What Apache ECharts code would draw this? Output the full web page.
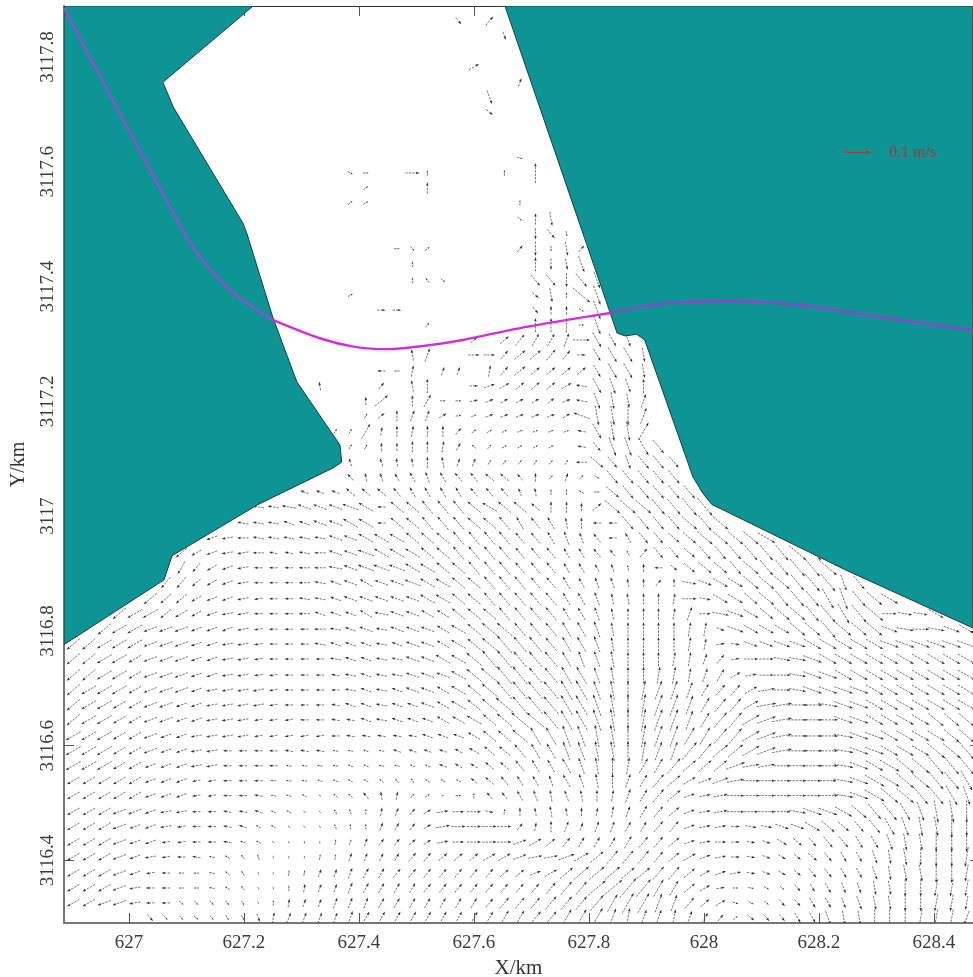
<!DOCTYPE html>
<html>
<head>
<meta charset="utf-8">
<style>html,body{margin:0;padding:0;background:#fff}#c{width:973px;height:977px}</style>
<script src="https://cdn.jsdelivr.net/npm/echarts@6/dist/echarts.min.js"></script>
</head>
<body>
<div id="c"></div>
<script>
const xMin = 626.887, xMax = 628.468, yMin = 3116.291, yMax = 3117.889;
const xTicks = [627, 627.2, 627.4, 627.6, 627.8, 628, 628.2, 628.4];
const yTicks = [3116.4, 3116.6, 3116.8, 3117, 3117.2, 3117.4, 3117.6, 3117.8];

const westCoast = [[626.887,3117.889],[627.216,3117.889],[627.059,3117.756],[627.077,3117.713],[627.198,3117.511],[627.205,3117.493],[627.250,3117.347],[627.292,3117.234],[627.367,3117.124],[627.370,3117.094],[627.355,3117.084],[627.224,3117.020],[627.075,3116.931],[627.061,3116.889],[626.887,3116.776]];
const eastCoast = [[627.654,3117.889],[627.849,3117.319],[627.863,3117.314],[627.883,3117.317],[627.897,3117.307],[627.981,3117.068],[627.998,3117.040],[628.014,3117.020],[628.033,3117.011],[628.249,3116.905],[628.468,3116.805],[628.468,3117.889]];

const sectionWest = [[626.887,3117.885],[626.962,3117.743],[627.037,3117.603],[627.077,3117.528],[627.118,3117.459],[627.170,3117.399],[627.210,3117.368],[627.250,3117.342]];
const sectionWater = [[627.250,3117.342],[627.332,3117.310],[627.393,3117.295],[627.449,3117.291],[627.515,3117.297],[627.581,3117.307],[627.671,3117.326],[627.762,3117.342],[627.837,3117.354]];
const sectionEast = [[627.837,3117.354],[627.923,3117.370],[628.045,3117.375],[628.167,3117.368],[628.306,3117.347],[628.468,3117.324]];

const xNodes = [626.903,626.930,626.957,626.983,627.010,627.037,627.064,627.091,627.117,627.144,627.171,627.198,627.225,627.251,627.278,627.305,627.332,627.359,627.385,627.412,627.439,627.466,627.493,627.519,627.546,627.573,627.600,627.627,627.653,627.680,627.707,627.734,627.761,627.787,627.814,627.841,627.868,627.895,627.921,627.948,627.975,628.002,628.029,628.055,628.082,628.109,628.136,628.163,628.189,628.216,628.243,628.270,628.297,628.323,628.350,628.377,628.404,628.431,628.457];
const rowYs = [3116.300,3116.326,3116.352,3116.378,3116.406,3116.432,3116.459,3116.485,3116.513,3116.539,3116.565,3116.591,3116.617,3116.645,3116.671,3116.697,3116.723,3116.751,3116.777,3116.803,3116.830,3116.856,3116.884,3116.910,3116.936,3116.962,3116.988,3117.016,3117.042,3117.068,3117.094,3117.121,3117.148,3117.175,3117.201,3117.227,3117.253,3117.281,3117.307,3117.333,3117.359,3117.385,3117.411,3117.439,3117.466,3117.492,3117.518,3117.546,3117.572,3117.598,3117.624,3117.650,3117.678,3117.704,3117.730,3117.756,3117.783,3117.809,3117.837,3117.863];

// direction of each arrow: one base-36 digit = tens of degrees; "." = no arrow
const dirRows = [
".....vvvwv uut8777776 6666666666 5566678778 7654wvvuut ssrrrqqqp",
"llkkjiiwvv vuu9877777 6666666555 5555566677 543yxwvvuu ttssrrqqq",
"lllkjiiiih fdca987776 6665555555 5555445566 4310zxwvuu ttssrrqqq",
"lllkkjiiih ecb9887776 6555555544 2344444455 4321zyxwvv uutsssrrq",
"lllkkjjihh fdba998877 6655444332 1123455554 3210zyxwwv uutssrrrq",
"lllkkkjjii hgfdca9877 5543100002 3456666554 2100zyxwvv vuutssrrr",
"lllkkkjjii hgffedcb99 7653100005 8977776655 2110zzyyxw wvvutssrr",
"lllkkkjjii hhggfedcb9 8753100z89 aaa9887654 2110000zyy xwvvutssr",
"lllllkkkjj iihhgfeeed a853109ddc baba987654 2110000000 zyxwwvvut",
"lllllkkkjj iiiihhggff edcfffeedc cbcba97654 3221000000 zyxxwwvvu",
"lllllkkkjj iiiihhhhgg hhgggffeed cccba98665 4442110000 zyxxwwvvv",
"lllllkkkjj iiiihhhhhg hggggffeed ccbbaa9877 5544321000 zyyxxxwwv",
"lllllkkkjj jjjjjjjihh hhhgggfeee ccbbaa9877 6655321000 zyyxxxxww",
"mllllkkkkj jjjjjiihhg hgggfffeee edccba9877 7655321000 yyxxxxwww",
"mllllkkkkj jjjjiiihgg hgggffeeed ddccba9877 765531100z yyxxxxxxx",
"mllllkkkkj jjjjiiiihg hgggffeedd ddccba9877 7655310zyy yyxxxxxxx",
"mmlllkkkkk jjjjiiihhg hhgggfeedd ddccba9988 8763100zyy xxxxxxxxx",
"mmlllkkkkk jjjiiiihgg hhggffeddd ddcbba9998 875100zzyx xxxxxxxxx",
"mmlllkkkkk jjjiiihggg hgggffeedd ddccba9999 881zyyyyxx xxxyyyyyy",
"..mllkkkkk kjjiiiihgg hgggffeeed ddccba9999 88yyxxxwwv wwwyz0zyx",
"...mllmllk jjiiiigggf hggffeeedd ddccba9998 70zyxwwwvv uvw0zzx..",
".....mmmlk kjjiihhggg gggffeeddd ddccbaa998 0zxxwwvvvu tvwx.....",
"......nnml kjiiiihggf gggffeeddd ddccbba959 zyxxwwwvvv tv.......",
".......onl kjiiiiihgg ggffeedddd ddcccba9iw wwwvwvvvvw .........",
".......mlk jjihhhiggg fffeeddddd ddccddc5vv wvvvvvvww. .........",
".........k jihhhhhggf ffeeeddddd dcbbdicvvw wwwwwx.... .........",
".......... .hhhggggff ieedddeedc dca9iivvvv wvw....... .........",
".......... ..hhhggggf ieedddefee e9994wwwvv vv........ .........",
".......... .....gggee edccccdddb a99f0wvvvv v......... .........",
".......... ........da bccbcddeed 9575xvvvvv .......... .........",
".......... ........b. baa9a77655 656iwvtvvv",
".......... ........66 999986e533 33.hvttuv.",
".......... .......666 8989954332 222huss6..",
".......... .........6 4977312222 223gssr7..",
".......... .........9 4.96001233 342htss7..",
".......... ......a... 5.a9..0234 443hutt9..",
".......... .......... ii8.77.854 4444uuus..",
".......... .......... ..a7..0054 4550uuus..",
".......... .......... ......4.45 6670uut...",
".......... .......... ...5...... 9990t.....",
".......... .......... 00........ v99xt.....",
".......... ........3. .......... ws9wt.....",
".......... .......... ..9dw..... vvrvt.....",
".......... .......... ..9....... 9rst......",
".......... .......... .0v4.....5 rrs5......",
".......... .......... .......... rvs.......",
".......... .......... .........w 9s........",
".......... ........43 .........9",
".......... .........4 ...9......",
".......... ........x0 ..09....9. 9.........",
".......... .......... .........y",
"",
"",
".......... .......... .......w..",
".......... .......... .......t..",
".......... .......... .........7",
".......... .......... ......3...",
"",
".......... .......... ........t.",
".......... .......... .....v.5.."
];

// speed of each arrow: one base-36 digit = 0.01 m/s
const speedRows = [
"1111132222 2234444455 5555555566 6677877666 5432333445 556666665",
"5555433222 2212333444 4444444455 5666778876 5442223344 455566665",
"5555433222 2211233344 4444444444 4566899876 5432222334 445566666",
"5555433222 2211223344 4444444444 4567776666 5444333344 445566776",
"5555443332 2221112233 3344444555 5566666655 5443333344 445566777",
"5555443333 3221111223 3333445555 5444445555 4443334445 555666777",
"5555444333 3322111222 3333555553 3443444455 4443445566 556777787",
"5555544433 3332211222 3333445323 3433344555 4456566677 777877888",
"5555544433 3332221223 3322122334 4444445566 4456666667 778888887",
"5555544433 3332222222 2222223444 4455555566 5566666666 778888888",
"6665544444 3333222222 2222333445 5566666667 6667666677 777888888",
"6665554444 3333333222 2333334556 6677777777 8777777777 777777888",
"6665554444 4433333333 3334445667 7788888888 7777777777 777777777",
"6665555444 4433333334 4444556678 8888888888 7677777777 777777777",
"6665555444 4443333344 4445566788 8888888888 7666677777 777777777",
"6666555544 4443333344 4455566788 8888777777 6555566677 777777777",
"6666555544 4433333344 4455567888 7777666666 5554456677 777777777",
"6666555544 4433333444 4455667887 7766665555 5443556677 777777777",
"6666655544 4433334444 4455566787 7666655555 5433556677 777777777",
"6666655544 4433334445 4555566776 6666655555 5536666778 777666666",
"6666665544 4433344445 5555566666 6655544444 5466667778 888555666",
"6666665544 4433344455 5556666666 6655544444 5466677778 877766666",
"6666665544 4433344455 5566666666 5554443333 5566777788 666666666",
"6666665544 4433344556 6666666665 5544332333 5666777888 666666666",
"6666665544 4443344556 6666666665 5544432455 5666777888 666666666",
"6666666544 4444444556 6666666665 5554434555 6777777888 666666666",
"6666666644 4444445566 3666666665 5544336666 7777777777 666666666",
"6666666664 4444555566 3666666666 4443477777 8888888888 666666666",
"2222222222 2222233344 4444444443 3222266666 6666666666 666666666",
"2222222222 3333333333 3344444443 3232266666 6666666666 666666666",
"2222222222 3333333333 3334433222 2224655665",
"2222222222 2222222222 3344432222 2223477765",
"2222222222 2222222226 3444432222 2223677722",
"2222222222 2222222222 3444322333 3336777622",
"2222222222 2222222223 6245223333 3334665522",
"2222222222 3333333333 3345333444 4444665522",
"2222222222 2222222222 3245333445 4444566522",
"2222222222 2222222222 3345334445 5543566522",
"2222222222 2222222222 3333333345 5556655222",
"2222222222 2222222222 3332222222 5552722222",
"2222222222 2222222222 3333222222 3332722222",
"2222222222 2222222222 2222222222 3528722222",
"2222222222 2222222222 4222222222 5556622222",
"2222222222 2222222222 2222222222 5446222222",
"2222222222 2222222222 2222222223 5253222222",
"2222222222 2222222222 2222222222 4422222222",
"2222222222 2222222222 2222222222 4522222222",
"2222222222 2222222222 2222222222",
"2222222222 2222222222 2224222222",
"2222222222 2222222222 2252222223 7222222222",
"2222222222 2222222222 2222222222",
"",
"",
"2222222222 2222222222 2222222322",
"2222222222 2222222222 2222222522",
"2222222222 2222222222 2222222223",
"2222222222 2222222222 2222224222",
"",
"2222222222 2222222222 2222222232",
"2222222222 2222222222 2222232422"
];

const legendArrow = [628.267, 3117.634, 0.1, 0];
const legendLabel = [628.322, 3117.634, '0.1 m/s'];

const kmPerMs = 0.5;
const arrowData = [];
dirRows.forEach((row, r) => {
  const dirs = row.replace(/ /g, '');
  const speeds = speedRows[r].replace(/ /g, '');
  for (let c = 0; c < dirs.length; c++) {
    if (dirs[c] === '.') continue;
    const a = parseInt(dirs[c], 36) * 10 * Math.PI / 180;
    const s = parseInt(speeds[c], 36) * 0.01;
    arrowData.push([xNodes[c], rowYs[r], s * Math.cos(a), s * Math.sin(a)]);
  }
});

function arrowRenderer(stroke, head, width, size) {
  return function (params, api) {
    const x = api.value(0), y = api.value(1), u = api.value(2), v = api.value(3);
    const t = api.coord([x - u * kmPerMs / 2, y - v * kmPerMs / 2]);
    const h = api.coord([x + u * kmPerMs / 2, y + v * kmPerMs / 2]);
    const a = Math.atan2(h[1] - t[1], h[0] - t[0]);
    const len = Math.hypot(h[0] - t[0], h[1] - t[1]);
    const s = Math.min(size, len * 0.4), w = s * 0.36;
    const bx = h[0] - s * Math.cos(a), by = h[1] - s * Math.sin(a);
    return {
      type: 'group',
      silent: true,
      children: [
        { type: 'line', shape: { x1: t[0], y1: t[1], x2: bx, y2: by }, style: { stroke: stroke, lineWidth: width, lineDash: width < 1 ? [2.4, 1.1] : null } },
        { type: 'polygon', shape: { points: [h, [bx - w * Math.sin(a), by + w * Math.cos(a)], [bx + w * Math.sin(a), by - w * Math.cos(a)]] }, style: { fill: head } }
      ]
    };
  };
}

function landRenderer(points) {
  return function (params, api) {
    if (params.dataIndex !== 0) return;
    return { type: 'polygon', silent: true, shape: { points: points.map(p => api.coord(p)) }, style: { fill: '#0e9494', stroke: '#14403f', lineWidth: 1 } };
  };
}

const serif = '"Liberation Serif", "Times New Roman", serif';
const tick = { show: true, inside: true, length: 10, lineStyle: { color: '#555', width: 1 } };
const tickText = { fontFamily: serif, fontSize: 19, color: '#3c3c3c' };

const chart = echarts.init(document.getElementById('c'), null, { renderer: 'canvas' });
chart.setOption({
  animation: false,
  backgroundColor: '#fff',
  grid: { left: 64, right: 0, top: 6, bottom: 54, containLabel: false, outerBoundsMode: 'none' },
  xAxis: [
    { type: 'value', position: 'bottom', min: xMin, max: xMax, splitLine: { show: false },
      name: 'X/km', nameLocation: 'middle', nameGap: 34, nameTextStyle: { fontFamily: serif, fontSize: 21, color: '#333' },
      axisLine: { show: true, onZero: false, lineStyle: { color: '#777', width: 2 } },
      axisTick: Object.assign({ customValues: xTicks }, tick),
      axisLabel: Object.assign({ customValues: xTicks, margin: 11, formatter: v => String(v), showMinLabel: true, showMaxLabel: true }, tickText) },
    { type: 'value', position: 'top', min: xMin, max: xMax, splitLine: { show: false },
      axisLine: { show: true, onZero: false, lineStyle: { color: '#333', width: 1 } },
      axisTick: Object.assign({ customValues: xTicks }, tick),
      axisLabel: { show: false } }
  ],
  yAxis: [
    { type: 'value', position: 'left', min: yMin, max: yMax, splitLine: { show: false },
      name: 'Y/km', nameLocation: 'middle', nameGap: 35, nameRotate: 90, nameTextStyle: { fontFamily: serif, fontSize: 20, color: '#333' },
      axisLine: { show: true, onZero: false, lineStyle: { color: '#777', width: 2 } },
      axisTick: Object.assign({ customValues: yTicks }, tick),
      axisLabel: Object.assign({ customValues: yTicks, rotate: 90, margin: 6, formatter: v => String(v), showMinLabel: true, showMaxLabel: true }, tickText) },
    { type: 'value', position: 'right', min: yMin, max: yMax, splitLine: { show: false },
      axisLine: { show: false },
      axisTick: Object.assign({ customValues: yTicks }, tick, { length: 3 }),
      axisLabel: { show: false } }
  ],
  series: [
    { type: 'custom', name: 'velocity', coordinateSystem: 'cartesian2d', z: 2, silent: true, clip: true, data: arrowData,
      renderItem: arrowRenderer('#555', '#333', 0.8, 3.4) },
    { type: 'custom', name: 'west land', coordinateSystem: 'cartesian2d', z: 3, silent: true, clip: true, data: westCoast, renderItem: landRenderer(westCoast) },
    { type: 'custom', name: 'east land', coordinateSystem: 'cartesian2d', z: 3, silent: true, clip: true, data: eastCoast, renderItem: landRenderer(eastCoast) },
    { type: 'line', name: 'section', data: sectionWest, smooth: 0.3, showSymbol: false, z: 5, silent: true, lineStyle: { color: '#9150cf', width: 2.4 } },
    { type: 'line', name: 'section', data: sectionWater, smooth: 0.3, showSymbol: false, z: 5, silent: true, lineStyle: { color: '#d22fd8', width: 2.4 } },
    { type: 'line', name: 'section', data: sectionEast, smooth: 0.3, showSymbol: false, z: 5, silent: true, lineStyle: { color: '#8a46c8', width: 2.4 } },
    { type: 'custom', name: 'scale arrow', coordinateSystem: 'cartesian2d', z: 6, silent: true, data: [legendArrow],
      renderItem: arrowRenderer('#b03a33', '#b03a33', 1, 6) },
    { type: 'custom', name: 'scale label', coordinateSystem: 'cartesian2d', z: 6, silent: true, data: [legendLabel],
      renderItem: function (params, api) {
        const p = api.coord([legendLabel[0], legendLabel[1]]);
        return { type: 'text', silent: true, x: p[0], y: p[1], style: { text: legendLabel[2], fill: '#a23c3c', font: '16px ' + serif, verticalAlign: 'middle', align: 'left' } };
      } }
  ]
});
</script>
</body>
</html>
